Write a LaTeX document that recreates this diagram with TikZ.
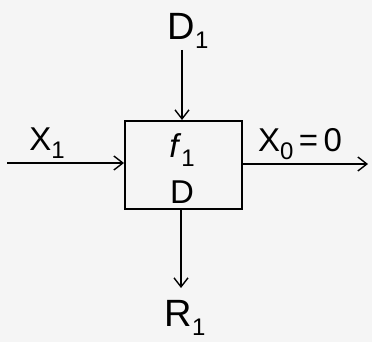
\documentclass[tikz,border=0pt]{standalone}
\usepackage{fontspec}
\setmainfont{Liberation Sans}
\usetikzlibrary{arrows.meta}
\newcommand{\lowidx}[1]{\raisebox{-0.25em}{\fontsize{24}{26}\selectfont #1}}
\begin{document}
\begin{tikzpicture}[x=1pt,y=-1pt,
  conn/.style={line width=1.6pt,-{Straight Barb[length=9pt,width=14pt,line width=1.4pt]}},
  lbl/.style={font=\fontsize{33}{37}\selectfont,inner sep=0pt},
  biglbl/.style={font=\fontsize{38}{42}\selectfont,inner sep=0pt},
  blockbox/.style={draw,line width=2pt,minimum width=117pt,minimum height=88pt,inner sep=0pt}]
\fill[white!92!gray] (0,0) rectangle (372,342);
\useasboundingbox (0,0) rectangle (372,342);
\node[blockbox] (box) at (183.5,165) {};
\node[lbl] (f) at (182,150) {\textit{f}\lowidx{1}};
\node[lbl] (d) at (182,192) {D};
\node[biglbl] (D1) at (188,31) {D\lowidx{1}};
\node[lbl] (X1) at (47,143) {X\lowidx{1}};
\node[lbl] (X0) at (300,144) {X\lowidx{0}\,=\,0};
\node[biglbl] (R1) at (185,318) {R\lowidx{1}};
\coordinate (dtop) at (182,50);
\coordinate (xin) at (7,163);
\coordinate (xout) at (368,164);
\coordinate (rend) at (181,288);
\draw[conn] (dtop) -- (dtop |- box.north);
\draw[conn] (xin) -- (xin -| box.west);
\draw[conn] (xout -| box.east) -- (xout);
\draw[conn] (rend |- box.south) -- (rend);
\end{tikzpicture}
\end{document}
